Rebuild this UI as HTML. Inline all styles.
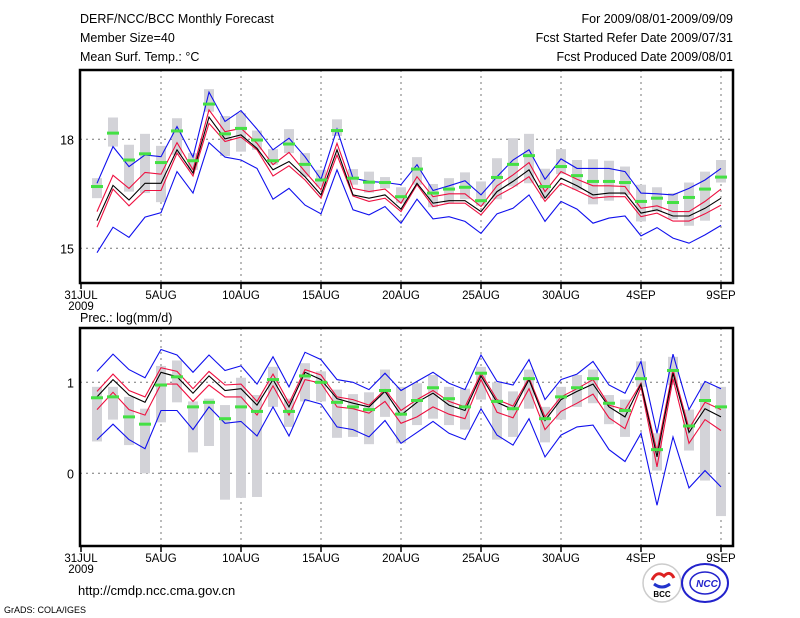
<!DOCTYPE html>
<html><head><meta charset="utf-8"><style>
body{margin:0;background:#fff;width:800px;height:618px;overflow:hidden}
svg{display:block;font-family:"Liberation Sans",sans-serif}
</style></head><body>
<svg id="chart" width="800" height="618" viewBox="0 0 800 618">
<g font-size="12.5" fill="#000">
<text x="80" y="23">DERF/NCC/BCC Monthly Forecast</text>
<text x="80" y="42">Member Size=40</text>
<text x="80" y="61">Mean Surf. Temp.: °C</text>
<text x="733" y="23" text-anchor="end">For 2009/08/01-2009/09/09</text>
<text x="733" y="42" text-anchor="end">Fcst Started Refer Date 2009/07/31</text>
<text x="733" y="61" text-anchor="end">Fcst Produced Date 2009/08/01</text>
<text x="80" y="322">Prec.: log(mm/d)</text>
<text x="78" y="595" font-size="13">http://cmdp.ncc.cma.gov.cn</text>
<text x="4" y="613" font-size="9">GrADS: COLA/IGES</text>
</g>
<g>
<circle cx="662" cy="583" r="19" fill="#fff" stroke="#ccc" stroke-width="1.5"/>
<path d="M652 580 q5 -10 12 -4 q6 -6 10 2" fill="none" stroke="#d22" stroke-width="3"/>
<path d="M654 584 q8 6 16 0" fill="none" stroke="#23c" stroke-width="3"/>
<text x="662" y="597" font-size="8" font-weight="bold" text-anchor="middle" fill="#000">BCC</text>
</g>
<g>
<ellipse cx="705" cy="583" rx="23" ry="19" fill="#fff" stroke="#22c" stroke-width="2"/>
<ellipse cx="705" cy="583" rx="15" ry="11" fill="none" stroke="#22c" stroke-width="1.5"/>
<text x="707" y="587" font-size="10" font-weight="bold" font-style="italic" text-anchor="middle" fill="#22c">NCC</text>
</g>
<g id="plots"></g>
</svg>
<script>
// Temperature panel data (days 1..40 = Aug 1 .. Sep 9)
const tBlack=[15.76,16.73,16.33,16.79,16.79,17.71,17.07,18.61,18.01,18.12,17.75,17.16,17.39,16.97,16.47,17.71,16.47,16.38,16.47,16.08,16.79,16.24,16.31,16.31,16.01,16.56,16.84,17.16,16.38,16.93,16.72,16.47,16.52,16.52,15.97,16.06,15.89,15.89,16.10,16.38];
const tRedU=[16.01,17.01,16.65,17.09,17.04,17.91,17.16,18.81,18.21,18.30,17.89,17.30,17.64,17.11,16.61,17.89,16.65,16.56,16.63,16.24,16.97,16.42,16.50,16.50,16.15,16.72,17.02,17.36,16.56,17.11,16.90,16.72,16.72,16.70,16.10,16.17,16.01,16.01,16.29,16.63];
const tRedL=[15.58,16.63,16.17,16.59,16.59,17.62,16.99,18.44,17.94,18.06,17.71,16.99,17.27,16.88,16.38,17.57,16.44,16.29,16.38,16.01,16.75,16.15,16.24,16.24,15.92,16.44,16.68,16.97,16.29,16.79,16.59,16.38,16.42,16.42,15.87,15.97,15.75,15.75,15.95,16.19];
const tBlueU=[16.79,17.80,17.25,17.57,17.52,18.35,17.51,19.30,18.49,18.79,18.28,17.71,18.03,17.52,16.90,18.28,16.93,16.84,16.81,16.75,17.30,16.59,16.72,16.86,16.47,16.97,17.43,17.71,16.90,17.46,17.20,17.20,17.20,17.11,16.52,16.50,16.47,16.65,16.88,17.20];
const tBlueL=[14.88,15.58,15.30,15.86,15.98,17.11,16.52,17.91,17.51,17.43,17.20,16.35,16.65,16.19,15.95,17.16,16.06,15.92,16.15,15.69,16.35,15.81,15.87,15.74,15.41,15.95,16.10,16.47,15.74,16.29,16.08,15.69,15.83,15.89,15.34,15.57,15.28,15.14,15.37,15.63];
const tObs=[16.70,18.17,17.43,17.60,17.36,18.23,17.41,18.97,18.15,18.30,17.98,17.41,17.87,17.31,16.88,18.24,16.93,16.82,16.81,16.42,17.18,16.52,16.63,16.68,16.31,16.95,17.31,17.55,16.70,17.25,17.00,16.84,16.84,16.81,16.29,16.38,16.26,16.40,16.63,16.96];
const tGrayHi=[16.93,18.60,17.85,18.15,17.82,18.58,17.62,19.38,18.64,18.72,18.24,17.73,18.28,17.62,17.16,18.55,17.18,17.11,16.96,16.68,17.51,16.77,16.93,17.09,16.84,17.48,18.03,18.15,17.19,17.73,17.43,17.45,17.41,17.25,16.75,16.68,16.52,16.81,17.11,17.43];
const tGrayLo=[16.38,17.80,16.56,16.52,16.27,17.57,17.16,18.76,17.54,17.66,17.71,17.30,17.62,16.97,16.70,18.09,16.75,16.53,16.65,16.24,16.75,16.13,16.24,16.35,16.17,16.35,16.70,16.79,16.38,17.04,16.61,16.21,16.31,16.47,15.74,16.01,15.80,15.62,15.76,16.81];
const tTicks=[15,18];
// Precipitation panel data
const pBlack=[0.84,1.03,0.86,0.78,1.11,1.06,0.88,1.07,0.91,0.93,0.75,1.03,0.73,1.11,1.03,0.82,0.77,0.73,0.90,0.64,0.78,0.88,0.75,0.69,1.07,0.78,0.70,1.03,0.58,0.81,0.90,0.98,0.73,0.62,0.98,0.18,1.10,0.45,0.71,0.62];
const pRedU=[0.90,1.09,0.91,0.84,1.16,1.12,0.93,1.12,0.97,0.98,0.79,1.09,0.77,1.14,1.08,0.84,0.81,0.75,0.92,0.69,0.81,0.91,0.79,0.73,1.10,0.81,0.74,1.05,0.62,0.84,0.93,1.03,0.75,0.70,0.99,0.24,1.14,0.49,0.78,0.70];
const pRedL=[0.70,0.89,0.70,0.64,0.98,0.98,0.79,0.97,0.84,0.84,0.64,0.96,0.64,1.03,0.99,0.73,0.71,0.66,0.79,0.55,0.62,0.73,0.65,0.60,1.03,0.67,0.61,0.93,0.48,0.68,0.77,0.87,0.61,0.49,0.95,0.07,1.04,0.33,0.59,0.47];
const pBlueU=[1.12,1.31,1.14,1.05,1.36,1.30,1.11,1.30,1.13,1.18,0.98,1.28,0.95,1.33,1.25,1.03,1.00,0.92,1.10,0.91,1.01,1.11,0.99,0.92,1.30,1.01,0.97,1.25,0.81,1.03,1.09,1.23,0.97,0.88,1.23,0.44,1.31,0.70,1.01,0.93];
const pBlueL=[0.37,0.54,0.37,0.27,0.69,0.69,0.48,0.73,0.55,0.57,0.41,0.73,0.41,0.81,0.76,0.51,0.48,0.40,0.58,0.33,0.45,0.57,0.44,0.37,0.71,0.42,0.31,0.60,0.18,0.42,0.51,0.53,0.26,0.13,0.44,-0.35,0.40,-0.16,0.03,-0.15];
const pObs=[0.83,0.84,0.62,0.54,0.97,1.06,0.73,0.78,0.60,0.73,0.68,1.03,0.68,1.07,1.00,0.78,0.73,0.70,0.91,0.65,0.80,0.94,0.82,0.73,1.10,0.79,0.71,1.04,0.60,0.84,0.94,1.04,0.77,0.69,1.04,0.26,1.13,0.52,0.80,0.73];
const pGrayHi=[0.95,0.95,0.84,0.71,1.18,1.24,0.79,0.82,0.75,1.05,0.86,1.17,0.82,1.21,1.12,0.92,0.87,0.89,1.14,0.95,0.99,1.08,0.95,0.93,1.17,1.00,0.90,1.14,0.73,0.95,1.08,1.14,0.86,0.81,1.23,0.44,1.28,0.70,0.99,0.95];
const pGrayLo=[0.35,0.59,0.31,0.00,0.56,0.78,0.23,0.30,-0.29,-0.27,-0.26,0.73,0.51,0.79,0.79,0.39,0.40,0.32,0.62,0.33,0.53,0.60,0.53,0.48,0.81,0.37,0.40,0.71,0.34,0.59,0.73,0.77,0.54,0.40,0.95,0.03,0.97,0.25,-0.08,-0.47];
const pTicks=[0,1];
// X axis
const xTickDays=[0,5,10,15,20,25,30,35,40];
const xTickLabels=["31JUL","5AUG","10AUG","15AUG","20AUG","25AUG","30AUG","4SEP","9SEP"];

const NS="http://www.w3.org/2000/svg";
const root=document.getElementById('plots');
function mk(tag,attrs,parent){const e=document.createElementNS(NS,tag);for(const k in attrs)e.setAttribute(k,attrs[k]);(parent||root).appendChild(e);return e;}
const X0=81,DX=16,FL=80,FR=733;
function xs(d){return X0+DX*d;}

function panel(cfg){
  const ys=v=>cfg.y0+(v-cfg.v0)*(cfg.y1-cfg.y0)/(cfg.v1-cfg.v0);
  const g=mk('g',{});
  
  
  // grid
  xTickDays.slice(1).forEach(d=>{const l=mk('line',{x1:xs(d),x2:xs(d),y1:cfg.top,y2:cfg.bot,stroke:'#777','stroke-dasharray':'2,4'},g);
    });
  cfg.ticks.forEach(t=>{const l=mk('line',{x1:FL,x2:FR,y1:ys(t),y2:ys(t),stroke:'#777','stroke-dasharray':'2,4'},g);
    
    const tx=mk('text',{x:FL-6,y:ys(t)+5,'text-anchor':'end','font-size':'12.5'},g);tx.textContent=String(t);
    });
  // gray bars
  cfg.hi.forEach((h,i)=>{const d=i+1;const y1=ys(h),y2=ys(cfg.lo[i]);
    const r=mk('rect',{x:xs(d)-5,y:Math.min(y1,y2),width:10,height:Math.max(1,Math.abs(y2-y1)),fill:'#d3d3d8'},g);
    });
  // lines
  const series=[[cfg.bU,'#1010ee','blue-upper-line'],[cfg.bL,'#1010ee','blue-lower-line'],[cfg.rU,'#ee1040','red-upper-line'],[cfg.rL,'#ee1040','red-lower-line'],[cfg.bk,'#000','ensemble-mean-line']];
  series.forEach(([arr,c,n])=>{const p=mk('polyline',{points:arr.map((v,i)=>xs(i+1)+','+ys(v).toFixed(1)).join(' '),fill:'none',stroke:c,'stroke-width':1.1},g);
    });
  // green obs marks
  cfg.obs.forEach((v,i)=>{const r=mk('rect',{x:xs(i+1)-6,y:ys(v)-1.5,width:12,height:3,fill:'#44e044'},g);
    });
  // frame
  const f=mk('rect',{x:FL,y:cfg.top,width:FR-FL,height:cfg.bot-cfg.top,fill:'none',stroke:'#000','stroke-width':2.5},g);
  
  xTickDays.forEach((d,k)=>{const l=mk('line',{x1:xs(d),x2:xs(d),y1:cfg.bot,y2:cfg.bot+6,stroke:'#000','stroke-width':1.5},g);
    
    const t=mk('text',{x:xs(d),y:cfg.bot+16,'text-anchor':'middle','font-size':'11.5'},g);t.textContent=xTickLabels[k];
    });
  const yr=mk('text',{x:xs(0),y:cfg.bot+27,'text-anchor':'middle','font-size':'11.5'},g);yr.textContent='2009';
  
}
panel({name:'temperature-panel',top:70,bot:283,v0:18,y0:139.3,v1:15,y1:248.3,ticks:tTicks,
  hi:tGrayHi,lo:tGrayLo,bU:tBlueU,bL:tBlueL,rU:tRedU,rL:tRedL,bk:tBlack,obs:tObs});
panel({name:'precipitation-panel',top:328,bot:546,v0:1,y0:382.3,v1:0,y1:473.3,ticks:pTicks,
  hi:pGrayHi,lo:pGrayLo,bU:pBlueU,bL:pBlueL,rU:pRedU,rL:pRedL,bk:pBlack,obs:pObs});
</script>
</body></html>
